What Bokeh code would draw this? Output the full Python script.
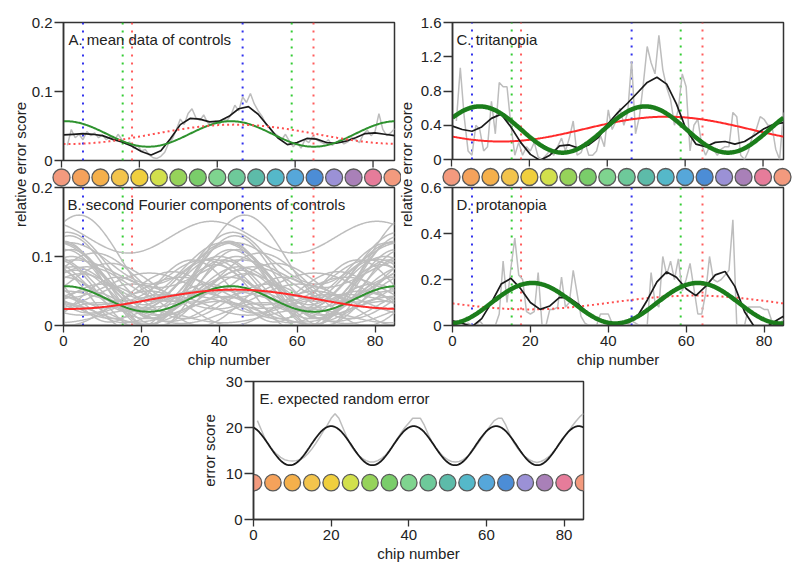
import numpy as np
from math import pi
from bokeh.plotting import figure
from bokeh.models import Range1d, FixedTicker, CustomJSTickFormatter, Label
from bokeh.layouts import row, column
from bokeh.embed import file_html
from bokeh.resources import INLINE
from bokeh.core.properties import value

FONT = "Liberation Sans"
N_CHIPS = 85

# ---------------- data ----------------
chips = list(range(1, 86))                      # raw data chip numbers
smooth_chips = [i * 2.5 for i in range(35)]     # sampled smooth (low-pass) curves
cap_chips = list(range(0, 86, 5))               # coloured caps
cap_colors = ["#F39A7E", "#F5A25B", "#F5B04B", "#F3C44C", "#F0CF3E", "#D2E04C",
              "#96D35A", "#7ACD6A", "#7FD48F", "#6EC99A", "#5DBBA9", "#55B8C9",
              "#56A7DA", "#4C8DD6", "#9B91D6", "#A980B8", "#E67C9A", "#F39A7E"]
blue_lines = [5, 46]
green_lines = [15.2, 58.6]
red_lines = [17.6, 64.2]

x_ticks = [0, 20, 40, 60, 80]
a_yticks = [0, 0.1, 0.2]
b_yticks = [0, 0.1, 0.2]
c_yticks = [0, 0.4, 0.8, 1.2, 1.6]
d_yticks = [0, 0.2, 0.4, 0.6]
e_yticks = [0, 10, 20, 30]

# A. mean data of controls
a_raw = [.022, .045, .033, .038, .030, .042, .036, .040, .033, .037, .030, .035, .028, .038, .030,
         .024, .027, .018, .022, .014, .016, .008, .004, .003, .006, .012, .025, .032, .045, .060,
         .052, .068, .075, .062, .058, .066, .055, .051, .057, .053, .060, .058, .066, .080, .072,
         .092, .084, .097, .082, .072, .064, .052, .048, .040, .036, .030, .038, .028, .020, .026,
         .018, .030, .026, .035, .030, .027, .024, .030, .022, .026, .030, .024, .027, .033, .030,
         .026, .038, .044, .036, .042, .068, .045, .036, .040, .046]
a_smooth = [.037, .038, .039, .038, .036, .031, .027, .021, .013, .008, .014, .032, .052, .061,
            .060, .056, .057, .064, .075, .078, .067, .050, .033, .023, .026, .032, .031, .026,
            .025, .028, .033, .039, .040, .038, .036]
# Fourier components: (mean, amplitude, chip of peak, harmonic)
a_first = (0.038, 0.014, 44, 1)
a_second = (0.0385, 0.0185, 43, 2)

# B. second Fourier components of individual controls: (mean, amplitude, chip of peak)
b_second_each = [
    (0.098, 0.062, 4), (0.128, 0.023, 38), (0.085, 0.050, 1), (0.075, 0.045, 42),
    (0.070, 0.060, 44), (0.060, 0.040, 40), (0.055, 0.045, 2), (0.050, 0.035, 45),
    (0.065, 0.030, 36), (0.045, 0.050, 41), (0.040, 0.030, 0), (0.060, 0.025, 6),
    (0.035, 0.025, 10), (0.050, 0.020, 30), (0.030, 0.020, 34), (0.045, 0.030, 4.5),
    (0.070, 0.035, 8), (0.040, 0.040, 3), (0.025, 0.025, 22), (0.030, 0.015, 26),
    (0.020, 0.015, 40), (0.055, 0.055, 43), (0.048, 0.030, 28), (0.035, 0.035, 14),
    (0.042, 0.018, 18), (0.058, 0.038, 38), (0.062, 0.028, 12), (0.038, 0.012, 0),
    (0.028, 0.022, 6), (0.050, 0.045, 33), (0.080, 0.040, 41), (0.060, 0.062, 0),
    (0.022, 0.020, 42), (0.018, 0.015, 9), (0.035, 0.010, 30), (0.052, 0.058, 2),
    (0.040, 0.048, 39), (0.014, 0.010, 20), (0.058, 0.018, 22), (0.075, 0.020, 3),
    (0.090, 0.030, 44), (0.032, 0.028, 37)]

# C. tritanopia
c_raw = [0.45, 1.07, 0.50, 0.10, 0.05, 0.40, 0.35, 0.10, 0.15, 0.68, 0.30, 0.90, 0.85, 0.85, 0.40,
         0.05, 0.20, 0.05, 0.15, 0.10, 0.20, 0.03, 0.00, 0.05, 0.10, 0.05, 0.15, 0.25, 0.10, 0.25,
         0.45, 0.05, 0.08, 0.20, 0.05, 0.05, 0.10, 0.28, 0.15, 0.58, 0.35, 0.45, 0.60, 0.40, 0.55,
         1.15, 0.30, 0.50, 0.88, 1.32, 1.13, 1.00, 1.45, 1.05, 0.84, 0.70, 0.40, 0.59, 1.00, 0.85,
         0.10, 0.40, 0.47, 0.17, 0.05, 0.15, 0.12, 0.05, 0.12, 0.15, 0.15, 0.55, 0.50, 0.05, 0.00,
         0.10, 0.27, 0.35, 0.50, 0.47, 0.40, 0.40, 0.12, 0.00, 0.55]
c_smooth = [0.39, 0.35, 0.33, 0.38, 0.48, 0.53, 0.38, 0.20, 0.06, -0.01, 0.05, 0.16, 0.17, 0.13,
            0.17, 0.26, 0.42, 0.55, 0.66, 0.78, 0.90, 0.96, 0.88, 0.65, 0.35, 0.18, 0.15, 0.20,
            0.21, 0.18, 0.21, 0.28, 0.36, 0.41, 0.43]
c_first = (0.355, 0.145, 55, 1)
c_second = (0.35, 0.27, 7, 2)

# D. protanopia
d_raw = [0.02, 0.00, 0.00, 0.01, 0.00, 0.00, 0.02, 0.00, 0.00, 0.00, 0.00, 0.05, 0.28, 0.10, 0.25,
         0.38, 0.22, 0.20, 0.06, 0.05, 0.06, 0.23, 0.00, 0.00, 0.07, 0.07, 0.08, 0.21, 0.08, 0.10,
         0.24, 0.14, 0.04, 0.01, 0.00, 0.00, 0.00, 0.05, 0.05, 0.05, 0.01, 0.00, 0.00, 0.00, 0.00,
         0.02, 0.01, 0.00, 0.00, 0.00, 0.23, 0.10, 0.08, 0.30, 0.22, 0.28, 0.20, 0.29, 0.15, 0.20,
         0.27, 0.16, 0.05, 0.05, 0.14, 0.30, 0.20, 0.19, 0.20, 0.22, 0.24, 0.46, 0.00, 0.00, 0.00,
         0.08, 0.08, 0.08, 0.08, 0.07, 0.07, 0.02, 0.00, 0.00, 0.03]
d_smooth = [0.02, 0.01, -0.005, 0.03, 0.10, 0.18, 0.205, 0.16, 0.10, 0.07, 0.085, 0.122, 0.12,
            0.09, 0.05, 0.028, 0.015, 0.006, 0.012, 0.04, 0.11, 0.19, 0.233, 0.21, 0.16, 0.13,
            0.17, 0.22, 0.235, 0.17, 0.06, -0.005, -0.015, 0.015, 0.04]
d_first = (0.10, 0.03, 62, 1)
d_second = (0.097, 0.088, 20.5, 2)

# E. expected random error
e_raw = [21.5, 19.5, 17.5, 16.0, 15.0, 14.2, 13.5, 13.0, 12.8, 12.7, 12.8, 13.0, 13.5, 14.3, 15.3,
         16.5, 17.8, 19.2, 20.5, 22.0, 23.0, 22.0, 20.0, 18.0, 16.2, 15.0, 14.0, 13.3, 12.8, 12.5,
         12.5, 12.8, 13.3, 14.0, 15.0, 16.2, 17.5, 18.8, 20.0, 21.0, 22.0, 22.0, 22.0, 20.5, 18.5,
         16.8, 15.5, 14.5, 13.6, 13.0, 12.6, 12.5, 12.6, 13.0, 13.6, 14.5, 15.6, 16.8, 18.0, 19.2,
         20.4, 21.5, 22.0, 22.0, 20.5, 18.5, 16.8, 15.5, 14.5, 13.6, 13.0, 12.6, 12.4, 12.6, 13.0,
         13.6, 14.5, 15.5, 16.6, 17.8, 19.0, 20.2, 21.3, 22.3, 23.0]
e_fourth = (16.05, 4.25, 20, 4)
e_cap_level = 8

# ---------------- styling ----------------
GRAY = "#bdbdbd"
BLACK = "#1a1a1a"
GREEN = "#2e922e"
DGREEN = "#1b7d1b"
RED = "#ff2a2a"
DRED = "#ff5050"
BOX = "#333333"
TXT = "#222222"

x_fine = np.linspace(0, N_CHIPS, 341)


def fourier(comp, x):
    m, a, pk, h = comp
    return m + a * np.cos(2 * np.pi * h * (x - pk) / N_CHIPS)


fmt_code = "return String(Math.round(tick * 1000) / 1000);"


def style_axis(ax):
    ax.axis_line_color = BOX
    ax.axis_line_width = 1.5
    ax.major_tick_line_color = BOX
    ax.major_tick_line_width = 1.3
    ax.major_tick_in = 0
    ax.minor_tick_in = 0
    ax.minor_tick_out = 0
    ax.major_label_text_font = FONT
    ax.major_label_text_font_size = "15px"
    ax.major_label_text_color = TXT
    ax.formatter = CustomJSTickFormatter(code=fmt_code)
    ax.axis_label_text_font = FONT
    ax.axis_label_text_font_size = "15px"
    ax.axis_label_text_font_style = "normal"
    ax.axis_label_text_color = TXT


def panel(y_end, yticks, left, right, top, bottom, frame_h, frame_w=331, has_x=True,
          xlabel=None, ylabel=None):
    p = figure(frame_width=frame_w, frame_height=frame_h,
               x_range=Range1d(0, N_CHIPS), y_range=Range1d(0, y_end),
               toolbar_location=None, output_backend="svg",
               x_axis_location="below" if has_x else None,
               min_border_left=left, min_border_right=right,
               min_border_top=top, min_border_bottom=bottom, frame_align=False)
    for g in p.grid:
        g.visible = False
    p.outline_line_color = BOX
    p.outline_line_width = 1.5
    p.outline_line_alpha = 1
    p.border_fill_alpha = 0
    ya = p.yaxis[0]
    style_axis(ya)
    ya.ticker = FixedTicker(ticks=yticks)
    ya.major_tick_out = 9
    ya.major_label_standoff = 2
    if ylabel:
        ya.axis_label = ylabel
        ya.axis_label_standoff = 5
    if has_x:
        xa = p.xaxis[0]
        style_axis(xa)
        xa.ticker = FixedTicker(ticks=x_ticks)
        xa.major_tick_out = 7
        xa.major_label_standoff = 3
        if xlabel:
            xa.axis_label = xlabel
            xa.axis_label_standoff = 2
    return p


def add_title(p, text, y_end, frame_h, frame_w=331, dx=5):
    p.add_layout(Label(x=dx * N_CHIPS / frame_w, y=y_end * (frame_h - 16.5) / frame_h,
                       text=text, text_font=FONT, text_font_size="15px",
                       text_color=TXT, text_baseline="alphabetic", text_align="left"))


def add_markers(p, y_end):
    for xs, col in ((blue_lines, "#3030ee"), (green_lines, "#33cc33"), (red_lines, "#ff5c5c")):
        p.segment(x0=xs, y0=[0] * len(xs), x1=xs, y1=[y_end] * len(xs),
                  line_color=col, line_width=2, line_dash="2 6")


def strip(width, left_px, height, up, down, cap_center):
    """Cap strip between the stacked panels; y range in pixels, overlaps neighbours."""
    s = N_CHIPS / 331
    f = figure(width=width, height=height,
               x_range=Range1d(-left_px * s, N_CHIPS + (width - left_px - 331) * s),
               y_range=Range1d(0, height), min_border=0,
               x_axis_location=None, y_axis_location=None,
               toolbar_location=None, output_backend="svg",
               margin=(-up, 0, -down, 0), frame_align=False)
    for g in f.grid:
        g.visible = False
    f.outline_line_color = None
    f.background_fill_alpha = 0
    f.border_fill_alpha = 0
    # tick marks hanging below the upper panel
    f.segment(x0=x_ticks, y0=[height] * len(x_ticks), x1=x_ticks,
              y1=[height - up] * len(x_ticks), line_color=BOX, line_width=1.3)
    f.scatter(cap_chips, [cap_center] * len(cap_chips), size=17, fill_color=cap_colors,
              line_color="#5a5a5a", line_width=1.3)
    return f


def ylabel_fig(width, height, xc, yc_from_top, text, margin=None):
    f = figure(width=width, height=height, x_range=Range1d(0, width),
               y_range=Range1d(0, height), min_border=0,
               x_axis_location=None, y_axis_location=None,
               toolbar_location=None, output_backend="svg", margin=margin,
               frame_align=False)
    for g in f.grid:
        g.visible = False
    f.outline_line_color = None
    f.background_fill_alpha = 0
    f.border_fill_alpha = 0
    f.text(x=[xc], y=[height - yc_from_top], text=[text], angle=pi / 2,
           text_align="center", text_baseline="middle",
           text_font=value(FONT), text_font_size="15px", text_color=TXT)
    return f


# ---------------- panel A ----------------
A_END = 0.2
pa = panel(A_END, a_yticks, 33, 9, 14, 7, 138, has_x=False)
add_markers(pa, A_END)
pa.line(chips, a_raw, line_color=GRAY, line_width=1.5)
pa.line(smooth_chips, a_smooth, line_color=BLACK, line_width=1.7)
pa.line(x_fine, fourier(a_second, x_fine), line_color=GREEN, line_width=2)
pa.line(x_fine, fourier(a_first, x_fine), line_color=DRED, line_width=2, line_dash="2 3")
add_title(pa, "A. mean data of controls", A_END, 138)

# ---------------- panel B ----------------
B_END = 0.2
pb = panel(B_END, b_yticks, 33, 9, 20, 49, 138, xlabel="chip number")
add_markers(pb, B_END)
pb.multi_line([list(x_fine)] * len(b_second_each),
              [list(fourier((m, a, pk, 2), x_fine)) for (m, a, pk) in b_second_each],
              line_color=GRAY, line_width=1.5)
pb.line(x_fine, fourier(a_second, x_fine), line_color=GREEN, line_width=2)
pb.line(x_fine, fourier(a_first, x_fine), line_color=RED, line_width=2)
add_title(pb, "B. second Fourier components of controls", B_END, 138, dx=4)

# ---------------- panel C ----------------
C_END = 1.6
pc = panel(C_END, c_yticks, 34, 12, 14, 7, 137, has_x=False)
add_markers(pc, C_END)
pc.line(chips, c_raw, line_color=GRAY, line_width=1.5)
pc.line(x_fine, fourier(c_first, x_fine), line_color=RED, line_width=2)
pc.line(smooth_chips, c_smooth, line_color=BLACK, line_width=1.7)
pc.line(x_fine, fourier(c_second, x_fine), line_color=DGREEN, line_width=4.5)
add_title(pc, "C. tritanopia", C_END, 137, dx=4)

# ---------------- panel D ----------------
D_END = 0.6
pd_ = panel(D_END, d_yticks, 34, 12, 21, 49, 138, xlabel="chip number")
add_markers(pd_, D_END)
pd_.line(chips, d_raw, line_color=GRAY, line_width=1.5)
pd_.line(x_fine, fourier(d_first, x_fine), line_color=DRED, line_width=2, line_dash="2 3")
pd_.line(smooth_chips, d_smooth, line_color=BLACK, line_width=1.7)
pd_.line(x_fine, fourier(d_second, x_fine), line_color=DGREEN, line_width=4.5)
add_title(pd_, "D. protanopia", D_END, 138, dx=4)

# ---------------- panel E ----------------
E_END = 30
pe = panel(E_END, e_yticks, 245, 10, 7, 46, 138, frame_w=330,
           xlabel="chip number", ylabel="error score")
pe.line(chips, e_raw, line_color=GRAY, line_width=1.5)
pe.line(x_fine, fourier(e_fourth, x_fine), line_color=BLACK, line_width=1.8)
pe.scatter(cap_chips, [e_cap_level] * len(cap_chips), size=16.5, fill_color=cap_colors,
           line_color="#5a5a5a", line_width=1.3)
add_title(pe, "E. expected random error", E_END, 138, frame_w=330, dx=6)

# ---------------- layout ----------------
strip_l = strip(373, 33, 27, 7, 20, 10)
strip_r = strip(377, 34, 28, 7, 21, 10.5)
label_l = ylabel_fig(20, 366, 11.5, 156, "relative error score")
label_r = ylabel_fig(22, 366, 11, 156, "relative error score", margin=(0, 0, 0, -8))

left_col = column(pa, strip_l, pb)
right_col = column(pc, strip_r, pd_)
top = row(label_l, left_col, label_r, right_col)
layout = column(top, pe, margin=(8, 0, 0, 8))

open("out.html", "w").write(file_html(layout, INLINE))
